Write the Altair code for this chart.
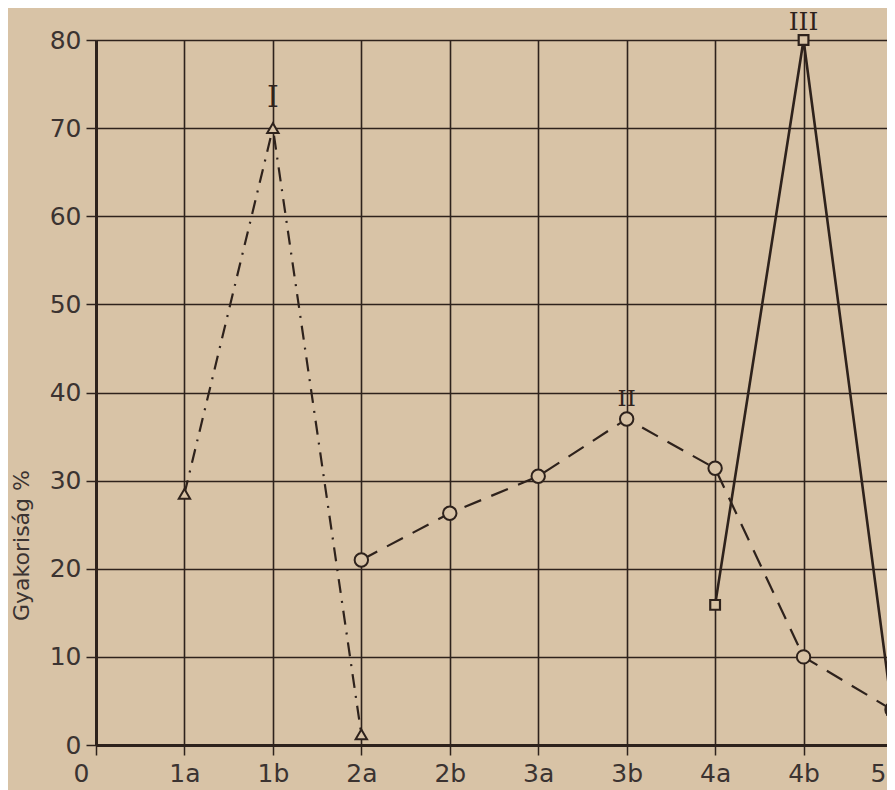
import altair as alt
import pandas as pd

categories = ["0", "1a", "1b", "2a", "2b", "3a", "3b", "4a", "4b", "5"]

s1_x = ["1a", "1b", "2a"]
s1_y = [28.5, 70, 1.2]

s2_x = ["2a", "2b", "3a", "3b", "4a", "4b", "5"]
s2_y = [21, 26.3, 30.5, 37, 31.4, 10, 4]

s3_x = ["4a", "4b", "5"]
s3_y = [15.9, 80, 4]

lab_x = ["1b", "3b", "4b"]
lab_y = [73.4, 39.3, 82.0]
lab_t = ["I", "II", "III"]
lab_size = [30, 23, 25]

BG = "#d8c3a6"
INK = "#2e221c"
TXT = "#3b3331"

d1 = pd.DataFrame({"x": s1_x, "y": s1_y})
d2 = pd.DataFrame({"x": s2_x, "y": s2_y})
d3 = pd.DataFrame({"x": s3_x, "y": s3_y})
dl = pd.DataFrame({"x": lab_x, "y": lab_y, "t": lab_t, "s": lab_size})

xs = alt.Scale(type="point", domain=categories, padding=0)
ys = alt.Scale(domain=[0, 80], nice=False)

xenc = alt.X(
    "x:N",
    scale=xs,
    axis=alt.Axis(
        title=None,
        labelAngle=0,
        labelFontSize=25,
        labelColor=TXT,
        labelFont="DejaVu Sans",
        labelPadding=6,
        tickSize=10,
        tickColor=INK,
        tickWidth=1.5,
        grid=True,
        gridColor=INK,
        gridWidth=1.6,
        domainColor=INK,
        domainWidth=3,
        labelOffset={
            "condition": [
                {"test": "datum.value === '0'", "value": -15},
                {"test": "datum.value === '5'", "value": -6},
            ],
            "value": 0,
        },
        labelAlign={"condition": {"test": "datum.value === '5'", "value": "right"}, "value": "center"},
    ),
)
yenc = alt.Y(
    "y:Q",
    scale=ys,
    axis=alt.Axis(
        title="Gyakoriság %",
        titleFontSize=22,
        titleFontWeight="normal",
        titleColor=TXT,
        titleFont="DejaVu Sans",
        titleX=-63,
        titleY=505,
        titleAngle=270,
        values=list(range(0, 81, 10)),
        labelFontSize=25,
        labelColor=TXT,
        labelFont="DejaVu Sans",
        labelPadding=5,
        tickSize=10,
        tickColor=INK,
        tickWidth=1.5,
        grid=True,
        gridColor=INK,
        gridWidth=1.6,
        domainColor=INK,
        domainWidth=3,
    ),
)

base_x = alt.X("x:N", scale=xs)
base_y = alt.Y("y:Q", scale=ys)

line1 = alt.Chart(d1).mark_line(color=INK, strokeWidth=2.2, strokeDash=[14, 8, 2, 8]).encode(x=xenc, y=yenc)
line2 = alt.Chart(d2).mark_line(color=INK, strokeWidth=2.2, strokeDash=[18, 11]).encode(x=base_x, y=base_y)
line3 = alt.Chart(d3).mark_line(color=INK, strokeWidth=2.6).encode(x=base_x, y=base_y)

pt1 = alt.Chart(d1).mark_point(shape="triangle-up", size=130, filled=True, fill=BG, stroke=INK, strokeWidth=2, opacity=1).encode(x=base_x, y=base_y)
pt2 = alt.Chart(d2).mark_point(shape="circle", size=180, filled=True, fill=BG, stroke=INK, strokeWidth=2, opacity=1).encode(x=base_x, y=base_y)
pt3 = alt.Chart(d3).mark_point(shape="square", size=95, filled=True, fill=BG, stroke=INK, strokeWidth=2.2, opacity=1).encode(x=base_x, y=base_y)

labels = alt.Chart(dl).mark_text(font="DejaVu Serif", color=INK, baseline="middle", align="center").encode(
    x=base_x, y=base_y, text="t:N", size=alt.Size("s:Q", scale=None, legend=None)
)

chart = (
    alt.layer(line1, line2, line3, pt1, pt2, pt3, labels)
    .properties(
        width=796,
        height=705,
        autosize=alt.AutoSizeParams(type="none"),
        padding={"left": 88, "top": 32, "right": -5, "bottom": 45},
        background=BG,
    )
    .configure_view(stroke=None)
)

chart.save("out.html", embed_options={"renderer": "svg", "actions": False})
